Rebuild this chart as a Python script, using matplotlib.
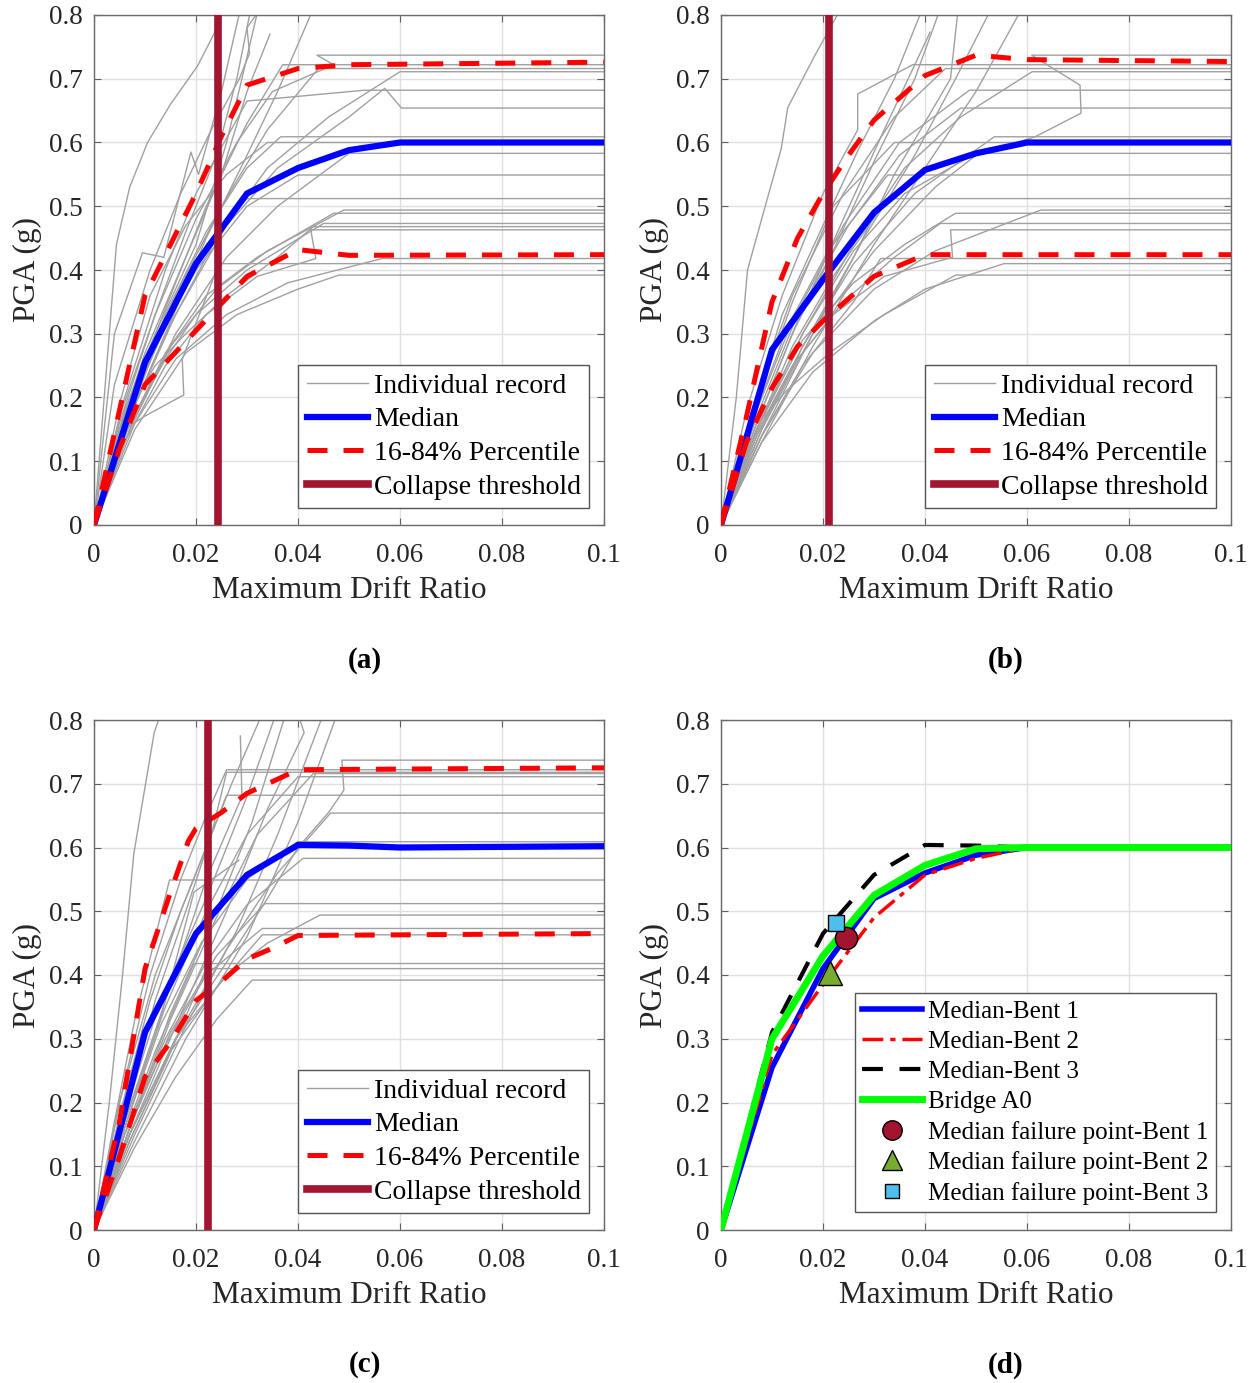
import matplotlib
matplotlib.use("Agg")
import matplotlib.pyplot as plt
from matplotlib.lines import Line2D

plt.rcParams["font.family"] = ["Liberation Serif", "DejaVu Serif"]

# axis ticks
drift_ticks = [0, 0.02, 0.04, 0.06, 0.08, 0.1]
drift_labels = ["0", "0.02", "0.04", "0.06", "0.08", "0.1"]
pga_ticks = [0, 0.1, 0.2, 0.3, 0.4, 0.5, 0.6, 0.7, 0.8]
pga_labels = ["0", "0.1", "0.2", "0.3", "0.4", "0.5", "0.6", "0.7", "0.8"]

# ---------------- (a) Bent 1 ----------------
a_rec_x = [
    [0, .0044, .007, .0105, .015, .0203, .0235, .0255],
    [0, .004, .0095, .0137, .019, .0205, .025, .029],
    [0, .005, .012, .018, .024, .028, .031],
    [0, .006, .012, .02, .026, .029, .0325],
    [0, .005, .01, .018, .025, .03, .0345],
    [0, .006, .014, .022, .03, .036, .043],
    [0, .004, .011, .017, .023, .0285, .0305, .030, .0335],
    [0, .005, .012, .02, .028, .035, .047, .0437, .1],
    [0, .006, .014, .022, .03, .037, .1],
    [0, .008, .016, .025, .034, .044, .1],
    [0, .006, .014, .024, .034, .046, .06, .1],
    [0, .006, .014, .02, .03, .053, .1],
    [0, .007, .016, .026, .036, .05, .057, .0603, .1],
    [0, .006, .014, .022, .03, .0366, .1],
    [0, .005, .011, .018, .026, .034, .1],
    [0, .007, .016, .026, .036, .05, .1],
    [0, .006, .013, .02, .03, .04, .1],
    [0, .008, .015, .022, .03, .1],
    [0, .007, .015, .024, .034, .049, .1],
    [0, .006, .014, .022, .032, .047, .1],
    [0, .007, .014, .02, .03, .045, .1],
    [0, .006, .012, .018, .026, .036, .043, .1],
    [0, .006, .014, .022, .032, .0435, .0425, .1],
    [0, .008, .016, .026, .038, .0565, .1],
    [0, .006, .0098, .0176, .0173, .0245, .1],
    [0, .008, .018, .028, .04, .048, .1],
]
a_rec_y = [
    [0, .44, .53, .60, .66, .72, .77, .82],
    [0, .30, .427, .42, .585, .55, .68, .82],
    [0, .17, .33, .46, .58, .70, .82],
    [0, .18, .30, .44, .60, .70, .82],
    [0, .15, .27, .42, .55, .68, .77],
    [0, .15, .30, .45, .58, .68, .81],
    [0, .22, .40, .52, .62, .70, .74, .78, .82],
    [0, .16, .33, .48, .60, .68, .722, .737, .737],
    [0, .17, .34, .50, .63, .722, .722],
    [0, .20, .36, .50, .62, .716, .716],
    [0, .15, .30, .45, .56, .64, .711, .711],
    [0, .20, .40, .52, .665, .682, .682],
    [0, .17, .33, .47, .56, .64, .685, .654, .654],
    [0, .16, .33, .46, .56, .609, .609],
    [0, .19, .36, .47, .55, .60, .60],
    [0, .15, .30, .42, .50, .583, .583],
    [0, .15, .30, .40, .50, .549, .549],
    [0, .20, .33, .44, .512, .512],
    [0, .15, .28, .37, .43, .494, .494],
    [0, .14, .27, .36, .42, .489, .489],
    [0, .16, .26, .33, .40, .473, .473],
    [0, .17, .25, .30, .36, .42, .468, .468],
    [0, .13, .25, .33, .39, .418, .463, .463],
    [0, .16, .26, .33, .38, .418, .418],
    [0, .15, .17, .204, .26, .41, .41],
    [0, .15, .27, .33, .37, .392, .392],
]
a_med_x = [0, 0.01, 0.02, 0.03, 0.04, 0.05, 0.06, 0.1]
a_med_y = [0, 0.255, 0.41, 0.52, 0.56, 0.588, 0.60, 0.60]
a_hi_x = [0, 0.01, 0.015, 0.02, 0.025, 0.03, 0.04, 0.05, 0.1]
a_hi_y = [0, 0.36, 0.44, 0.52, 0.61, 0.69, 0.716, 0.722, 0.726]
a_lo_x = [0, 0.005, 0.01, 0.02, 0.03, 0.04, 0.05, 0.1]
a_lo_y = [0, 0.12, 0.22, 0.305, 0.39, 0.432, 0.423, 0.424]
a_collapse = 0.0244

# ---------------- (b) Bent 2 ----------------
b_rec_x = [
    [0, .003, .0052, .0118, .0131, .0183, .0235],
    [0, .006, .012, .02, .027, .034, .0395],
    [0, .007, .014, .022, .03, .038, .043],
    [0, .008, .016, .026, .034, .045, .0465],
    [0, .008, .018, .028, .038, .046, .053],
    [0, .008, .018, .03, .04, .05, .059],
    [0, .007, .015, .024, .032, .041],
    [0, .008, .018, .03, .042, .05, .0616, .0706, .0704, .0609, .1],
    [0, .005, .012, .02, .0268, .0268, .0376, .1],
    [0, .006, .014, .024, .034, .044, .1],
    [0, .007, .016, .026, .036, .047, .061, .1],
    [0, .006, .014, .024, .035, .0487, .1],
    [0, .007, .015, .025, .035, .047, .1],
    [0, .007, .016, .026, .038, .0536, .1],
    [0, .006, .014, .022, .034, .1],
    [0, .007, .016, .026, .036, .05, .1],
    [0, .006, .013, .021, .0327, .1],
    [0, .007, .014, .022, .0327, .1],
    [0, .008, .018, .03, .042, .0627, .1],
    [0, .007, .016, .026, .036, .046, .1],
    [0, .007, .015, .024, .034, .043, .1],
    [0, .006, .014, .022, .032, .0454, .045, .1],
    [0, .008, .016, .026, .0313, .1],
    [0, .008, .018, .03, .04, .0555, .1],
    [0, .0078, .013, .0216, .032, .046, .1],
]
b_rec_y = [
    [0, .20, .40, .59, .655, .735, .81],
    [0, .17, .33, .47, .59, .70, .81],
    [0, .16, .30, .43, .57, .70, .81],
    [0, .15, .28, .42, .55, .70, .81],
    [0, .14, .30, .45, .58, .70, .81],
    [0, .13, .28, .44, .56, .68, .81],
    [0, .16, .32, .48, .62, .773],
    [0, .15, .30, .43, .53, .58, .609, .646, .69, .737, .737],
    [0, .18, .36, .52, .62, .676, .722, .722],
    [0, .18, .36, .52, .64, .716, .716],
    [0, .15, .30, .44, .56, .64, .711, .711],
    [0, .16, .32, .47, .60, .682, .682],
    [0, .17, .33, .47, .58, .654, .654],
    [0, .14, .28, .41, .52, .609, .609],
    [0, .17, .35, .50, .60, .60],
    [0, .15, .30, .43, .52, .583, .583],
    [0, .16, .31, .43, .549, .549],
    [0, .15, .28, .39, .512, .512],
    [0, .14, .27, .37, .43, .494, .494],
    [0, .15, .29, .38, .44, .489, .489],
    [0, .14, .26, .35, .42, .473, .473],
    [0, .13, .25, .33, .39, .42, .463, .463],
    [0, .14, .25, .35, .418, .418],
    [0, .13, .24, .32, .37, .41, .41],
    [0, .165, .212, .272, .33, .392, .392],
]
b_med_x = [0, 0.01, 0.02, 0.03, 0.04, 0.05, 0.06, 0.1]
b_med_y = [0, 0.275, 0.385, 0.49, 0.557, 0.583, 0.60, 0.60]
b_hi_x = [0, 0.005, 0.01, 0.015, 0.02, 0.025, 0.03, 0.04, 0.05, 0.06, 0.1]
b_hi_y = [0, 0.17, 0.35, 0.45, 0.52, 0.58, 0.635, 0.705, 0.737, 0.73, 0.727]
b_lo_x = [0, 0.005, 0.01, 0.015, 0.02, 0.03, 0.04, 0.1]
b_lo_y = [0, 0.13, 0.215, 0.28, 0.32, 0.39, 0.424, 0.424]
b_collapse = 0.0212

# ---------------- (c) Bent 3 ----------------
c_rec_x = [
    [0, .003, .0056, .0078, .0118, .0135],
    [0, .005, .012, .02, .027, .033],
    [0, .006, .013, .022, .03, .0357],
    [0, .007, .015, .024, .031, .0376],
    [0, .007, .016, .026, .034, .0412, .040],
    [0, .008, .018, .028, .036, .045],
    [0, .008, .018, .03, .04, .0477],
    [0, .006, .014, .022, .029, .0287],
    [0, .006, .013, .0196, .0284],
    [0, .007, .016, .026, .034, .04, .046, .049, .0486, .1],
    [0, .005, .011, .017, .022, .026, .1],
    [0, .006, .012, .018, .023, .026, .1],
    [0, .007, .015, .024, .032, .043, .1],
    [0, .006, .014, .022, .03, .04, .1],
    [0, .005, .011, .017, .022, .026, .1],
    [0, .007, .016, .026, .036, .0464, .1],
    [0, .006, .013, .021, .03, .04, .1],
    [0, .006, .014, .022, .03, .041, .1],
    [0, .004, .008, .0148, .1],
    [0, .007, .015, .024, .0335, .1],
    [0, .007, .016, .026, .034, .0443, .1],
    [0, .006, .014, .022, .033, .1],
    [0, .007, .015, .024, .033, .1],
    [0, .006, .012, .0196, .1],
    [0, .007, .014, .022, .1],
    [0, .008, .016, .024, .031, .1],
]
c_rec_y = [
    [0, .20, .40, .59, .78, .82],
    [0, .20, .40, .56, .70, .81],
    [0, .18, .36, .52, .68, .81],
    [0, .16, .34, .50, .64, .81],
    [0, .15, .32, .50, .66, .78, .81],
    [0, .15, .32, .47, .62, .81],
    [0, .14, .30, .46, .64, .81],
    [0, .17, .36, .55, .68, .775],
    [0, .16, .33, .53, .58],
    [0, .15, .30, .42, .52, .60, .655, .69, .737, .737],
    [0, .20, .40, .55, .65, .722, .722],
    [0, .18, .36, .50, .62, .718, .718],
    [0, .16, .33, .49, .62, .716, .716],
    [0, .17, .35, .50, .62, .711, .711],
    [0, .18, .36, .50, .60, .682, .682],
    [0, .15, .30, .44, .56, .654, .654],
    [0, .16, .32, .45, .55, .609, .609],
    [0, .15, .30, .42, .51, .583, .583],
    [0, .17, .33, .549, .549],
    [0, .16, .31, .43, .512, .512],
    [0, .15, .30, .40, .45, .494, .494],
    [0, .15, .29, .40, .473, .473],
    [0, .14, .28, .38, .463, .463],
    [0, .15, .28, .418, .418],
    [0, .14, .26, .41, .41],
    [0, .13, .24, .33, .392, .392],
]
c_med_x = [0, 0.01, 0.02, 0.03, 0.04, 0.05, 0.06, 0.1]
c_med_y = [0, 0.31, 0.465, 0.557, 0.604, 0.603, 0.60, 0.602]
c_hi_x = [0, 0.005, 0.0075, 0.01, 0.015, 0.0185, 0.02, 0.025, 0.03, 0.04, 0.1]
c_hi_y = [0, 0.17, 0.29, 0.41, 0.53, 0.61, 0.63, 0.655, 0.685, 0.722, 0.725]
c_lo_x = [0, 0.005, 0.01, 0.015, 0.02, 0.025, 0.03, 0.035, 0.04, 0.1]
c_lo_y = [0, 0.115, 0.24, 0.295, 0.36, 0.39, 0.425, 0.442, 0.462, 0.465]
c_collapse = 0.0224

# ---------------- (d) comparison ----------------
a0_x = [0, 0.01, 0.02, 0.03, 0.04, 0.05, 0.06, 0.1]
a0_y = [0, 0.30, 0.43, 0.525, 0.572, 0.598, 0.60, 0.60]
fail_x = [0.0245, 0.0214, 0.0225]
fail_y = [0.458, 0.403, 0.481]

BLUE = "#0000ff"
RED = "#ff0000"
DARKRED = "#a2142f"
GRAY = "#a0a0a0"


def setup(ax):
    ax.set_xlim(0, 0.1)
    ax.set_ylim(0, 0.8)
    ax.set_xticks(drift_ticks)
    ax.set_xticklabels(drift_labels)
    ax.set_yticks(pga_ticks)
    ax.set_yticklabels(pga_labels)
    ax.tick_params(direction="in", length=5, width=0.8, color="#606060",
                   top=True, right=True, labelsize=19.5, labelcolor="#262626")
    ax.tick_params(axis="x", pad=13)
    ax.tick_params(axis="y", pad=8)
    ax.grid(True, color="#e0e0e0", lw=1.0)
    ax.set_axisbelow(True)
    for s in ax.spines.values():
        s.set_color("#6a6a6a")
        s.set_linewidth(1.0)
    ax.set_xlabel("Maximum Drift Ratio", fontsize=22.5, labelpad=6, color="#262626")
    ax.set_ylabel("PGA (g)", fontsize=22.5, labelpad=5, color="#262626")


def ida_panel(ax, rx, ry, mx, my, hx, hy, lx, ly, col):
    setup(ax)
    for x, y in zip(rx, ry):
        ax.plot(x, y, color=GRAY, lw=1.0, zorder=2)
    ax.plot(mx, my, color=BLUE, lw=4.5, zorder=3, solid_joinstyle="miter")
    ax.plot(hx, hy, color=RED, lw=3.6, ls=(0, (4, 3.2)), zorder=4)
    ax.plot(lx, ly, color=RED, lw=3.6, ls=(0, (4, 3.2)), zorder=4)
    ax.axvline(col, color=DARKRED, lw=5.5, zorder=5)
    handles = [
        Line2D([], [], color=GRAY, lw=1.0),
        Line2D([], [], color=BLUE, lw=4.5),
        Line2D([], [], color=RED, lw=3.6, ls=(0, (4, 3.2))),
        Line2D([], [], color=DARKRED, lw=5.5),
    ]
    labels = ["Individual record", "Median", "16-84% Percentile", "Collapse threshold"]
    leg = ax.legend(handles, labels, loc="lower right", bbox_to_anchor=(0.971, 0.033),
                    fontsize=20, handlelength=2.2, handletextpad=0.22, borderpad=0.3,
                    labelspacing=0.3, fancybox=False, framealpha=1, borderaxespad=0)
    leg.get_frame().set_edgecolor("#555555")
    leg.get_frame().set_linewidth(1.0)
    leg.set_zorder(10)


fig = plt.figure(figsize=(12.57, 13.83), dpi=100)
W, H = 1257.0, 1383.0
aw, ah = 510 / W, 510 / H
ax_a = fig.add_axes([94 / W, 1 - 525 / H, aw, ah])
ax_b = fig.add_axes([721 / W, 1 - 525 / H, aw, ah])
ax_c = fig.add_axes([94 / W, 1 - 1230 / H, aw, ah])
ax_d = fig.add_axes([721 / W, 1 - 1230 / H, aw, ah])

ida_panel(ax_a, a_rec_x, a_rec_y, a_med_x, a_med_y, a_hi_x, a_hi_y, a_lo_x, a_lo_y, a_collapse)
ida_panel(ax_b, b_rec_x, b_rec_y, b_med_x, b_med_y, b_hi_x, b_hi_y, b_lo_x, b_lo_y, b_collapse)
ida_panel(ax_c, c_rec_x, c_rec_y, c_med_x, c_med_y, c_hi_x, c_hi_y, c_lo_x, c_lo_y, c_collapse)

# panel (d)
setup(ax_d)
ax_d.plot(a_med_x, a_med_y, color=BLUE, lw=4.0, zorder=3)
ax_d.plot(b_med_x, b_med_y, color=RED, lw=2.5, ls=(0, (6, 2, 1.5, 2)), zorder=3)
ax_d.plot(c_med_x, c_med_y, color="black", lw=3.0, ls=(0, (5, 4)), zorder=3)
ax_d.plot(a0_x, a0_y, color="#00ff00", lw=5.0, zorder=4)
ax_d.plot(fail_x[0], fail_y[0], ls="none", marker="o", ms=16, mfc=DARKRED, mec="black", mew=1, zorder=6)
ax_d.plot(fail_x[1], fail_y[1], ls="none", marker="^", ms=17, mfc="#77ac30", mec="black", mew=1, zorder=6)
ax_d.plot(fail_x[2], fail_y[2], ls="none", marker="s", ms=11, mfc="#4dbeee", mec="black", mew=1, zorder=6)
d_handles = [
    Line2D([], [], color=BLUE, lw=4.0),
    Line2D([], [], color=RED, lw=2.5, ls=(0, (6, 2, 1.5, 2))),
    Line2D([], [], color="black", lw=3.0, ls=(0, (5, 4))),
    Line2D([], [], color="#00ff00", lw=5.0),
    Line2D([], [], ls="none", marker="o", ms=14, mfc=DARKRED, mec="black", mew=1),
    Line2D([], [], ls="none", marker="^", ms=15, mfc="#77ac30", mec="black", mew=1),
    Line2D([], [], ls="none", marker="s", ms=10, mfc="#4dbeee", mec="black", mew=1),
]
d_labels = ["Median-Bent 1", "Median-Bent 2", "Median-Bent 3", "Bridge A0",
            "Median failure point-Bent 1", "Median failure point-Bent 2",
            "Median failure point-Bent 3"]
leg = ax_d.legend(d_handles, d_labels, loc="lower right", bbox_to_anchor=(0.971, 0.035),
                  fontsize=18, handlelength=2.4, handletextpad=0.25, borderpad=0.3,
                  labelspacing=0.3, fancybox=False, framealpha=1, borderaxespad=0,
                  numpoints=1)
leg.get_frame().set_edgecolor("#555555")
leg.get_frame().set_linewidth(1.0)
leg.set_zorder(10)

# panel captions
for lab, x, y in [("(a)", 365, 660), ("(b)", 1006, 660), ("(c)", 365, 1365), ("(d)", 1006, 1365)]:
    fig.text(x / W, 1 - y / H, lab, ha="center", va="center", fontsize=21, fontweight="bold")

fig.savefig("out.png", dpi=100)
